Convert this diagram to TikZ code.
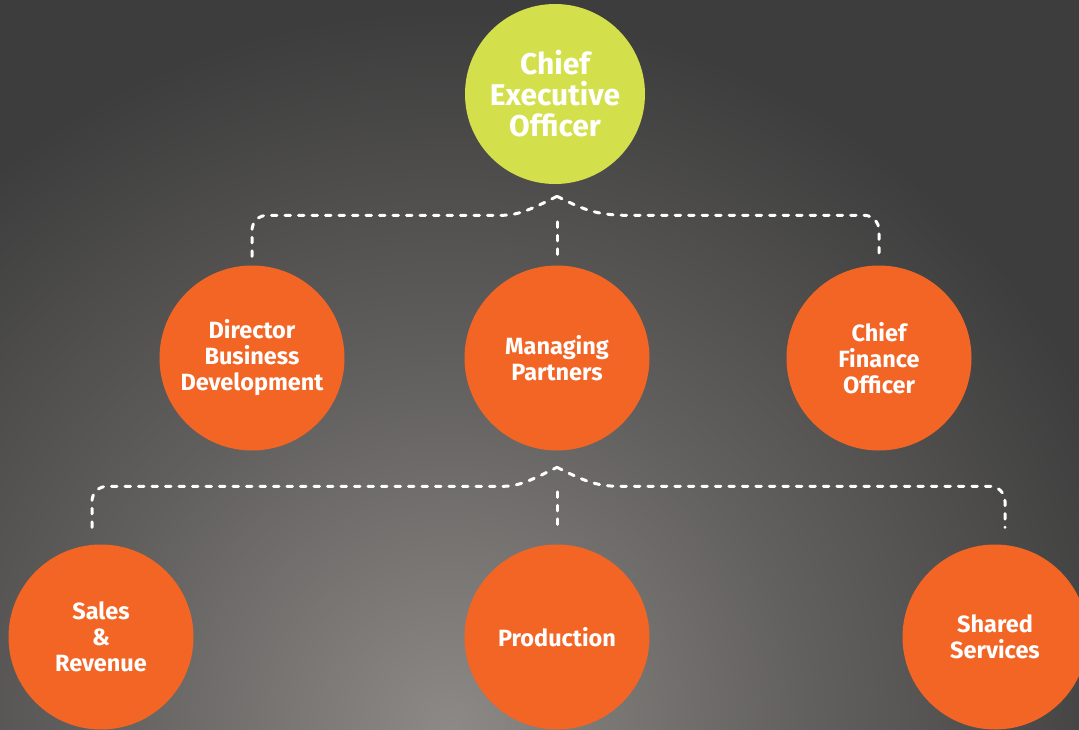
\documentclass[tikz,border=0pt]{standalone}
\usepackage{fontspec}
\setmainfont{Fira Sans}
\usetikzlibrary{calc}
\definecolor{bgA}{HTML}{8C8986}
\definecolor{bgB}{HTML}{62605E}
\definecolor{bgC}{HTML}{3D3D3D}
\definecolor{ceoc}{HTML}{D3DF4B}
\definecolor{orc}{HTML}{F36525}
\pgfdeclareradialshading{bgshade}{\pgfpoint{0bp}{0bp}}{color(0bp)=(bgA); color(9bp)=(bgB); color(18bp)=(bgC); color(50bp)=(bgC)}
\tikzset{
  bubble/.style={circle, fill=orc, minimum size=185pt, inner sep=0pt, text=white, align=center, font=\fontsize{23.5}{26}\selectfont\bfseries},
  ceobubble/.style={bubble, fill=ceoc, minimum size=180pt, font=\fontsize{30}{31}\selectfont\bfseries},
  conn/.style={draw=white, line width=3pt, dash pattern=on 5.5pt off 8pt, line cap=round}
}
\begin{document}
\begin{tikzpicture}[x=1pt, y=-1pt]
\useasboundingbox (0,0) rectangle (1079,729);
\begin{scope}
\clip (0,0) rectangle (1079,729);
\shade[shading=bgshade] (450,729) circle (1000);
\end{scope}
\node[ceobubble] (ceo) at (555,94) {Chief\\Executive\\Officer};
\node[bubble] (dir) at (252,358) {Director\\Business\\Development};
\node[bubble] (mp) at (557,358) {Managing\\Partners};
\node[bubble] (cfo) at (879,358) {Chief\\Finance\\Officer};
\node[bubble] (sales) at (101,637) {Sales\\\&\\Revenue};
\node[bubble] (prod) at (557,637) {Production};
\node[bubble] (shared) at (995,637) {Shared\\Services};
% top connectors
\coordinate (t1) at ($(mp.north)+(0,-69)$);
\draw[conn, rounded corners=15] ($(dir.north)+(0,-9)$) |- ($(t1)+(-70,19)$) [sharp corners] .. controls ($(t1)+(-38,19)$) and ($(t1)+(-24,12)$) .. (t1);
\draw[conn] (t1) .. controls ($(t1)+(24,12)$) and ($(t1)+(38,19)$) .. ($(t1)+(70,19)$) [rounded corners=15] -| ($(cfo.north)+(0,-9)$);
\draw[conn] ($(mp.north)+(0,-11)$) -- ($(t1)+(0,20)$);
% bottom connectors
\coordinate (t2) at ($(prod.north)+(0,-77)$);
\draw[conn, rounded corners=15] ($(sales.north)+(-9,-17)$) |- ($(t2)+(-68,19)$) [sharp corners] .. controls ($(t2)+(-38,19)$) and ($(t2)+(-24,12)$) .. (t2);
\draw[conn] (t2) .. controls ($(t2)+(24,12)$) and ($(t2)+(38,19)$) .. ($(t2)+(62,19)$) [rounded corners=15] -| ($(shared.north)+(10,-17)$);
\draw[conn] ($(prod.north)+(0,-20)$) -- ($(t2)+(0,19)$);
\end{tikzpicture}
\end{document}
